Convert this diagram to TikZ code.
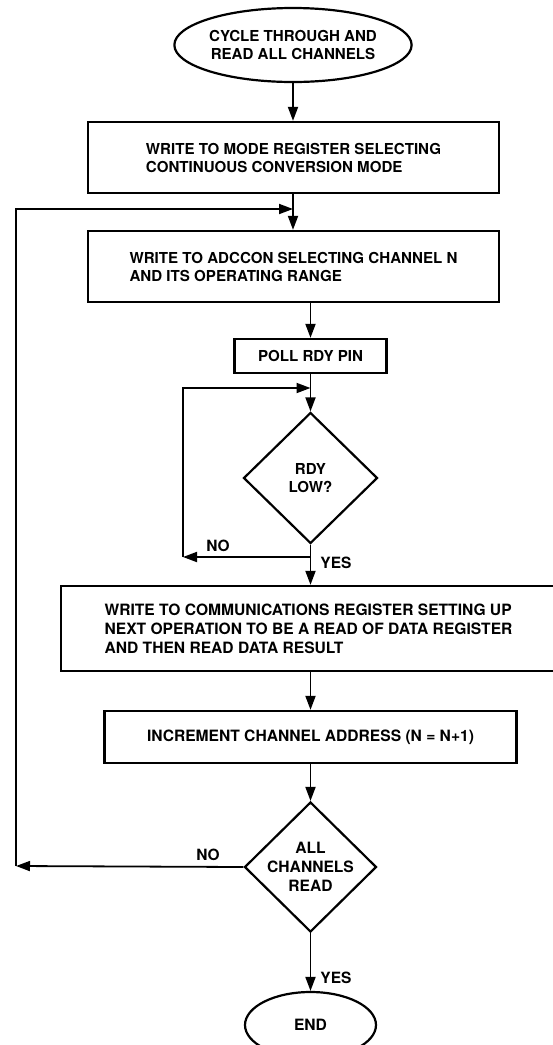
\documentclass[tikz,border=0pt]{standalone}
\usepackage{fontspec}
\setmainfont{TeX Gyre Heros}
\usetikzlibrary{shapes.geometric,arrows.meta}
\begin{document}
\begin{tikzpicture}[x=1pt,y=-1pt,
 box/.style={draw,line width=2.3pt,rectangle,align=left,inner sep=0pt},
 term/.style={draw,line width=2.2pt,ellipse,align=center,inner sep=0pt},
 dec/.style={draw,line width=2.2pt,diamond,inner sep=0pt},
 arr/.style={line width=1.8pt,-{Triangle[length=14pt,width=10pt]}},
 fa/.style={font=\fontsize{15.1}{18}\selectfont\bfseries},
 fb/.style={font=\fontsize{15.6}{19}\selectfont\bfseries},
 lab/.style={font=\fontsize{15.5}{18}\selectfont\bfseries}]
\useasboundingbox (0,0) rectangle (553,1045);
\clip (0,0) rectangle (553,1045);

\node[term,fa,minimum width=232pt,minimum height=74pt] (start) at (293,45) {CYCLE THROUGH AND\\READ ALL CHANNELS};
\node[box,fa,minimum width=411pt,minimum height=71pt] (b1) at (293.5,157.5) {WRITE TO MODE REGISTER SELECTING\\CONTINUOUS CONVERSION MODE};
\node[box,fa,minimum width=411pt,minimum height=71pt] (b2) at (293.5,266.5) {WRITE TO ADCCON SELECTING CHANNEL N\\AND ITS OPERATING RANGE};
\node[box,fa,minimum width=152pt,minimum height=34pt] (poll) at (310.5,356) {POLL RDY PIN};
\node[dec,minimum width=134pt,minimum height=131pt,label={[fa,align=center]center:RDY\\LOW?}] (rdy) at (310.5,478) {};
\node[box,fb,minimum width=495pt,minimum height=85pt] (b3) at (308.5,628.5) {WRITE TO COMMUNICATIONS REGISTER SETTING UP\\NEXT OPERATION TO BE A READ OF DATA REGISTER\\AND THEN READ DATA RESULT};
\node[box,fb,minimum width=412pt,minimum height=52pt] (b4) at (310.5,737) {INCREMENT CHANNEL ADDRESS (N = N+1)};
\node[dec,minimum width=132pt,minimum height=130pt,label={[fb,align=center]center:ALL\\CHANNELS\\READ}] (all) at (310.5,867) {};
\node[term,fb,minimum width=131pt,minimum height=66pt] (end) at (310.5,1025) {END};

\coordinate (j3) at (293,209);
\coordinate (c4) at (16,209);
\coordinate (c3) at (16,866);
\coordinate (j2) at (310.5,388);
\coordinate (c2) at (183,388);
\coordinate (c1) at (183,557);
\coordinate (j1) at (310.5,557);

\draw[arr] (start.south) -- (start.south |- b1.north);
\draw[arr] (b1.south -| start.south) -- (b2.north -| start.south);
\draw[arr] (poll.north |- b2.south) -- (poll.north);
\draw[arr] (poll.south) -- (rdy.north);
\draw[arr] (rdy.south) -- (rdy.south |- b3.north);
\draw[arr] (j1) -- (c1);
\draw[arr] (c1) |- (j2);
\draw[arr] (b4.north |- b3.south) -- (b4.north);
\draw[arr] (b4.south) -- (all.north);
\draw[arr] (all.south) -- (end.north);
\draw[arr] (all.west) -- (c3);
\draw[arr] (c3) -- (c4) -- (j3);

\node[lab] (no1) at (218,546) {NO};
\node[lab] (yes1) at (336,563) {YES};
\node[lab] (no2) at (208,855) {NO};
\node[lab] (yes2) at (336,978) {YES};
\end{tikzpicture}
\end{document}
